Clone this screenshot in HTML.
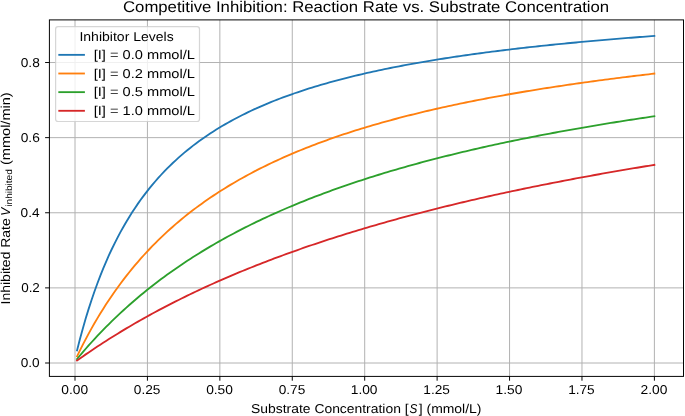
<!DOCTYPE html>
<html><head><meta charset="utf-8"><title>Competitive Inhibition: Reaction Rate vs. Substrate Concentration</title>
<style>html,body{margin:0;padding:0;background:#fff;overflow:hidden}svg{display:block;will-change:transform;text-rendering:geometricPrecision;font-kerning:none}</style></head>
<body><svg width="685" height="416" viewBox="0 0 685 416">
<rect width="685" height="416" fill="#fff"/>
<defs><clipPath id="c"><rect x="49.4" y="19.9" width="634.1" height="356.5"/></clipPath></defs>
<path d="M75 19.9V376.4M147.43 19.9V376.4M219.85 19.9V376.4M292.27 19.9V376.4M364.7 19.9V376.4M437.12 19.9V376.4M509.55 19.9V376.4M581.97 19.9V376.4M654.4 19.9V376.4M49.4 363H683.5M49.4 287.88H683.5M49.4 212.76H683.5M49.4 137.64H683.5M49.4 62.52H683.5" stroke="#b0b0b0" stroke-width="0.98" fill="none"/>
<g clip-path="url(#c)" fill="none" stroke-width="1.84" stroke-linecap="square" stroke-linejoin="round">
<path d="M77.05 350.43 79.95 339.07 82.85 328.40 85.75 318.36 88.66 308.89 91.56 299.95 94.46 291.49 97.36 283.48 100.26 275.87 103.16 268.65 106.06 261.78 108.96 255.24 111.86 249.00 114.76 243.04 117.67 237.35 120.57 231.91 123.47 226.69 126.37 221.70 129.27 216.91 132.17 212.31 135.07 207.89 137.97 203.64 140.87 199.55 143.77 195.62 146.68 191.82 149.58 188.16 152.48 184.63 155.38 181.23 158.28 177.93 161.18 174.75 164.08 171.67 166.98 168.69 169.88 165.81 172.78 163.01 175.69 160.30 178.59 157.68 181.49 155.13 184.39 152.66 187.29 150.25 190.19 147.92 193.09 145.65 195.99 143.45 198.89 141.31 201.79 139.22 204.70 137.19 207.60 135.21 210.50 133.29 213.40 131.41 216.30 129.58 219.20 127.80 222.10 126.06 225.00 124.36 227.90 122.71 230.80 121.09 233.71 119.51 236.61 117.97 239.51 116.47 242.41 115.00 245.31 113.56 248.21 112.15 251.11 110.77 254.01 109.43 256.91 108.11 259.81 106.82 262.72 105.56 265.62 104.32 268.52 103.11 271.42 101.93 274.32 100.77 277.22 99.63 280.12 98.51 283.02 97.42 285.92 96.35 288.82 95.30 291.73 94.26 294.63 93.25 297.53 92.26 300.43 91.28 303.33 90.33 306.23 89.39 309.13 88.46 312.03 87.56 314.93 86.67 317.83 85.79 320.74 84.93 323.64 84.09 326.54 83.26 329.44 82.44 332.34 81.64 335.24 80.85 338.14 80.07 341.04 79.31 343.94 78.56 346.84 77.82 349.75 77.09 352.65 76.38 355.55 75.67 358.45 74.98 361.35 74.30 364.25 73.63 367.15 72.97 370.05 72.31 372.95 71.67 375.85 71.04 378.75 70.42 381.66 69.80 384.56 69.20 387.46 68.60 390.36 68.01 393.26 67.44 396.16 66.86 399.06 66.30 401.96 65.75 404.86 65.20 407.77 64.66 410.67 64.13 413.57 63.60 416.47 63.09 419.37 62.57 422.27 62.07 425.17 61.57 428.07 61.08 430.97 60.60 433.87 60.12 436.77 59.65 439.68 59.18 442.58 58.72 445.48 58.27 448.38 57.82 451.28 57.37 454.18 56.94 457.08 56.51 459.98 56.08 462.88 55.66 465.79 55.24 468.69 54.83 471.59 54.42 474.49 54.02 477.39 53.62 480.29 53.23 483.19 52.84 486.09 52.46 488.99 52.08 491.89 51.71 494.80 51.34 497.70 50.97 500.60 50.61 503.50 50.25 506.40 49.90 509.30 49.55 512.20 49.20 515.10 48.86 518.00 48.52 520.90 48.19 523.81 47.86 526.71 47.53 529.61 47.21 532.51 46.89 535.41 46.57 538.31 46.26 541.21 45.94 544.11 45.64 547.01 45.33 549.91 45.03 552.82 44.73 555.72 44.44 558.62 44.15 561.52 43.86 564.42 43.57 567.32 43.29 570.22 43.01 573.12 42.73 576.02 42.46 578.92 42.19 581.83 41.92 584.73 41.65 587.63 41.38 590.53 41.12 593.43 40.86 596.33 40.61 599.23 40.35 602.13 40.10 605.03 39.85 607.93 39.60 610.84 39.36 613.74 39.12 616.64 38.88 619.54 38.64 622.44 38.40 625.34 38.17 628.24 37.94 631.14 37.71 634.04 37.48 636.94 37.25 639.85 37.03 642.75 36.81 645.65 36.59 648.55 36.37 651.45 36.16 654.35 35.94" stroke="#1f77b4"/>
<path d="M77.05 356.39 79.95 350.43 82.85 344.66 85.75 339.07 88.66 333.66 91.56 328.40 94.46 323.31 97.36 318.36 100.26 313.56 103.16 308.89 106.06 304.36 108.96 299.95 111.86 295.66 114.76 291.49 117.67 287.43 120.57 283.48 123.47 279.63 126.37 275.87 129.27 272.22 132.17 268.65 135.07 265.17 137.97 261.78 140.87 258.47 143.77 255.24 146.68 252.08 149.58 249.00 152.48 245.98 155.38 243.04 158.28 240.16 161.18 237.35 164.08 234.60 166.98 231.91 169.88 229.27 172.78 226.69 175.69 224.17 178.59 221.70 181.49 219.28 184.39 216.91 187.29 214.59 190.19 212.31 193.09 210.08 195.99 207.89 198.89 205.75 201.79 203.64 204.70 201.58 207.60 199.55 210.50 197.57 213.40 195.62 216.30 193.70 219.20 191.82 222.10 189.98 225.00 188.16 227.90 186.38 230.80 184.63 233.71 182.92 236.61 181.23 239.51 179.57 242.41 177.93 245.31 176.33 248.21 174.75 251.11 173.20 254.01 171.67 256.91 170.17 259.81 168.69 262.72 167.24 265.62 165.81 268.52 164.40 271.42 163.01 274.32 161.65 277.22 160.30 280.12 158.98 283.02 157.68 285.92 156.39 288.82 155.13 291.73 153.88 294.63 152.66 297.53 151.45 300.43 150.25 303.33 149.08 306.23 147.92 309.13 146.78 312.03 145.65 314.93 144.54 317.83 143.45 320.74 142.37 323.64 141.31 326.54 140.26 329.44 139.22 332.34 138.20 335.24 137.19 338.14 136.20 341.04 135.21 343.94 134.24 346.84 133.29 349.75 132.34 352.65 131.41 355.55 130.49 358.45 129.58 361.35 128.69 364.25 127.80 367.15 126.93 370.05 126.06 372.95 125.21 375.85 124.36 378.75 123.53 381.66 122.71 384.56 121.90 387.46 121.09 390.36 120.30 393.26 119.51 396.16 118.74 399.06 117.97 401.96 117.22 404.86 116.47 407.77 115.73 410.67 115.00 413.57 114.27 416.47 113.56 419.37 112.85 422.27 112.15 425.17 111.46 428.07 110.77 430.97 110.10 433.87 109.43 436.77 108.77 439.68 108.11 442.58 107.46 445.48 106.82 448.38 106.19 451.28 105.56 454.18 104.94 457.08 104.32 459.98 103.72 462.88 103.11 465.79 102.52 468.69 101.93 471.59 101.35 474.49 100.77 477.39 100.20 480.29 99.63 483.19 99.07 486.09 98.51 488.99 97.96 491.89 97.42 494.80 96.88 497.70 96.35 500.60 95.82 503.50 95.30 506.40 94.78 509.30 94.26 512.20 93.76 515.10 93.25 518.00 92.75 520.90 92.26 523.81 91.77 526.71 91.28 529.61 90.80 532.51 90.33 535.41 89.85 538.31 89.39 541.21 88.92 544.11 88.46 547.01 88.01 549.91 87.56 552.82 87.11 555.72 86.67 558.62 86.23 561.52 85.79 564.42 85.36 567.32 84.93 570.22 84.51 573.12 84.09 576.02 83.67 578.92 83.26 581.83 82.85 584.73 82.44 587.63 82.04 590.53 81.64 593.43 81.24 596.33 80.85 599.23 80.46 602.13 80.07 605.03 79.69 607.93 79.31 610.84 78.93 613.74 78.56 616.64 78.19 619.54 77.82 622.44 77.46 625.34 77.09 628.24 76.73 631.14 76.38 634.04 76.03 636.94 75.67 639.85 75.33 642.75 74.98 645.65 74.64 648.55 74.30 651.45 73.96 654.35 73.63" stroke="#ff7f0e"/>
<path d="M77.05 359.01 79.95 355.53 82.85 352.12 85.75 348.77 88.66 345.48 91.56 342.25 94.46 339.07 97.36 335.96 100.26 332.90 103.16 329.89 106.06 326.93 108.96 324.03 111.86 321.17 114.76 318.36 117.67 315.60 120.57 312.88 123.47 310.21 126.37 307.58 129.27 305.00 132.17 302.45 135.07 299.95 137.97 297.49 140.87 295.06 143.77 292.67 146.68 290.32 149.58 288.00 152.48 285.72 155.38 283.48 158.28 281.26 161.18 279.08 164.08 276.94 166.98 274.82 169.88 272.73 172.78 270.68 175.69 268.65 178.59 266.65 181.49 264.68 184.39 262.74 187.29 260.82 190.19 258.94 193.09 257.07 195.99 255.24 198.89 253.42 201.79 251.63 204.70 249.87 207.60 248.13 210.50 246.41 213.40 244.71 216.30 243.04 219.20 241.39 222.10 239.76 225.00 238.15 227.90 236.56 230.80 234.99 233.71 233.44 236.61 231.91 239.51 230.39 242.41 228.90 245.31 227.43 248.21 225.97 251.11 224.53 254.01 223.11 256.91 221.70 259.81 220.31 262.72 218.94 265.62 217.58 268.52 216.24 271.42 214.92 274.32 213.61 277.22 212.31 280.12 211.03 283.02 209.76 285.92 208.51 288.82 207.27 291.73 206.05 294.63 204.84 297.53 203.64 300.43 202.46 303.33 201.29 306.23 200.13 309.13 198.98 312.03 197.85 314.93 196.73 317.83 195.62 320.74 194.52 323.64 193.43 326.54 192.36 329.44 191.29 332.34 190.24 335.24 189.20 338.14 188.16 341.04 187.14 343.94 186.13 346.84 185.13 349.75 184.14 352.65 183.16 355.55 182.19 358.45 181.23 361.35 180.27 364.25 179.33 367.15 178.40 370.05 177.47 372.95 176.56 375.85 175.65 378.75 174.75 381.66 173.86 384.56 172.98 387.46 172.10 390.36 171.24 393.26 170.38 396.16 169.53 399.06 168.69 401.96 167.86 404.86 167.03 407.77 166.21 410.67 165.40 413.57 164.60 416.47 163.80 419.37 163.01 422.27 162.23 425.17 161.45 428.07 160.69 430.97 159.92 433.87 159.17 436.77 158.42 439.68 157.68 442.58 156.94 445.48 156.21 448.38 155.49 451.28 154.77 454.18 154.06 457.08 153.36 459.98 152.66 462.88 151.96 465.79 151.28 468.69 150.59 471.59 149.92 474.49 149.25 477.39 148.58 480.29 147.92 483.19 147.27 486.09 146.62 488.99 145.97 491.89 145.34 494.80 144.70 497.70 144.07 500.60 143.45 503.50 142.83 506.40 142.22 509.30 141.61 512.20 141.00 515.10 140.41 518.00 139.81 520.90 139.22 523.81 138.63 526.71 138.05 529.61 137.48 532.51 136.90 535.41 136.34 538.31 135.77 541.21 135.21 544.11 134.66 547.01 134.11 549.91 133.56 552.82 133.02 555.72 132.48 558.62 131.94 561.52 131.41 564.42 130.88 567.32 130.36 570.22 129.84 573.12 129.33 576.02 128.81 578.92 128.30 581.83 127.80 584.73 127.30 587.63 126.80 590.53 126.31 593.43 125.82 596.33 125.33 599.23 124.85 602.13 124.36 605.03 123.89 607.93 123.41 610.84 122.94 613.74 122.48 616.64 122.01 619.54 121.55 622.44 121.09 625.34 120.64 628.24 120.19 631.14 119.74 634.04 119.29 636.94 118.85 639.85 118.41 642.75 117.97 645.65 117.54 648.55 117.11 651.45 116.68 654.35 116.25" stroke="#2ca02c"/>
<path d="M77.05 360.47 79.95 358.42 82.85 356.39 85.75 354.38 88.66 352.40 91.56 350.43 94.46 348.49 97.36 346.57 100.26 344.66 103.16 342.78 106.06 340.92 108.96 339.07 111.86 337.25 114.76 335.44 117.67 333.66 120.57 331.89 123.47 330.14 126.37 328.40 129.27 326.69 132.17 324.99 135.07 323.31 137.97 321.64 140.87 319.99 143.77 318.36 146.68 316.75 149.58 315.14 152.48 313.56 155.38 311.99 158.28 310.43 161.18 308.89 164.08 307.37 166.98 305.86 169.88 304.36 172.78 302.88 175.69 301.41 178.59 299.95 181.49 298.51 184.39 297.08 187.29 295.66 190.19 294.26 193.09 292.87 195.99 291.49 198.89 290.12 201.79 288.77 204.70 287.43 207.60 286.10 210.50 284.78 213.40 283.48 216.30 282.18 219.20 280.90 222.10 279.63 225.00 278.36 227.90 277.11 230.80 275.87 233.71 274.64 236.61 273.42 239.51 272.22 242.41 271.02 245.31 269.83 248.21 268.65 251.11 267.48 254.01 266.32 256.91 265.17 259.81 264.03 262.72 262.90 265.62 261.78 268.52 260.67 271.42 259.56 274.32 258.47 277.22 257.38 280.12 256.30 283.02 255.24 285.92 254.18 288.82 253.12 291.73 252.08 294.63 251.04 297.53 250.02 300.43 249.00 303.33 247.98 306.23 246.98 309.13 245.98 312.03 245.00 314.93 244.01 317.83 243.04 320.74 242.07 323.64 241.12 326.54 240.16 329.44 239.22 332.34 238.28 335.24 237.35 338.14 236.43 341.04 235.51 343.94 234.60 346.84 233.69 349.75 232.80 352.65 231.91 355.55 231.02 358.45 230.14 361.35 229.27 364.25 228.41 367.15 227.55 370.05 226.69 372.95 225.85 375.85 225.01 378.75 224.17 381.66 223.34 384.56 222.52 387.46 221.70 390.36 220.89 393.26 220.08 396.16 219.28 399.06 218.48 401.96 217.69 404.86 216.91 407.77 216.13 410.67 215.36 413.57 214.59 416.47 213.82 419.37 213.06 422.27 212.31 425.17 211.56 428.07 210.82 430.97 210.08 433.87 209.34 436.77 208.62 439.68 207.89 442.58 207.17 445.48 206.46 448.38 205.75 451.28 205.04 454.18 204.34 457.08 203.64 459.98 202.95 462.88 202.26 465.79 201.58 468.69 200.90 471.59 200.22 474.49 199.55 477.39 198.89 480.29 198.22 483.19 197.57 486.09 196.91 488.99 196.26 491.89 195.62 494.80 194.97 497.70 194.34 500.60 193.70 503.50 193.07 506.40 192.45 509.30 191.82 512.20 191.20 515.10 190.59 518.00 189.98 520.90 189.37 523.81 188.76 526.71 188.16 529.61 187.57 532.51 186.97 535.41 186.38 538.31 185.80 541.21 185.21 544.11 184.63 547.01 184.06 549.91 183.48 552.82 182.92 555.72 182.35 558.62 181.79 561.52 181.23 564.42 180.67 567.32 180.12 570.22 179.57 573.12 179.02 576.02 178.47 578.92 177.93 581.83 177.40 584.73 176.86 587.63 176.33 590.53 175.80 593.43 175.27 596.33 174.75 599.23 174.23 602.13 173.71 605.03 173.20 607.93 172.69 610.84 172.18 613.74 171.67 616.64 171.17 619.54 170.67 622.44 170.17 625.34 169.67 628.24 169.18 631.14 168.69 634.04 168.20 636.94 167.72 639.85 167.24 642.75 166.76 645.65 166.28 648.55 165.81 651.45 165.34 654.35 164.87" stroke="#d62728"/>
</g>
<rect x="49.4" y="19.9" width="634.1" height="356.5" fill="none" stroke="#000" stroke-width="0.98"/>
<path d="M75 376.4v4.3M147.43 376.4v4.3M219.85 376.4v4.3M292.27 376.4v4.3M364.7 376.4v4.3M437.12 376.4v4.3M509.55 376.4v4.3M581.97 376.4v4.3M654.4 376.4v4.3M49.4 363h-4.3M49.4 287.88h-4.3M49.4 212.76h-4.3M49.4 137.64h-4.3M49.4 62.52h-4.3" stroke="#000" stroke-width="0.98" fill="none"/>
<rect x="55.6" y="26.7" width="143.9" height="94.8" rx="2.46" fill="#fff" fill-opacity="0.8" stroke="#ccc" stroke-opacity="0.8" stroke-width="1.23"/>
<path d="M59.25 54.85H83.98" stroke="#1f77b4" stroke-width="1.84" stroke-linecap="square"/>
<path d="M59.25 73.5H83.98" stroke="#ff7f0e" stroke-width="1.84" stroke-linecap="square"/>
<path d="M59.25 92.15H83.98" stroke="#2ca02c" stroke-width="1.84" stroke-linecap="square"/>
<path d="M59.25 110.8H83.98" stroke="#d62728" stroke-width="1.84" stroke-linecap="square"/>
<g font-family="'Liberation Sans', sans-serif" fill="#000">
<text transform="translate(123.00 12.10) scale(1.0789 1)" font-size="15.50">Competitive Inhibition: Reaction Rate vs. Substrate Concentration</text>
<text transform="translate(61.28 394.20) scale(1.0676 1)" font-size="12.92">0.00</text>
<text transform="translate(133.84 394.20) scale(1.0586 1)" font-size="12.92">0.25</text>
<text transform="translate(206.13 394.20) scale(1.0676 1)" font-size="12.92">0.50</text>
<text transform="translate(278.69 394.20) scale(1.0586 1)" font-size="12.92">0.75</text>
<text transform="translate(350.74 394.20) scale(1.0664 1)" font-size="12.92">1.00</text>
<text transform="translate(423.30 394.20) scale(1.0572 1)" font-size="12.92">1.25</text>
<text transform="translate(495.59 394.20) scale(1.0664 1)" font-size="12.92">1.50</text>
<text transform="translate(568.15 394.20) scale(1.0572 1)" font-size="12.92">1.75</text>
<text transform="translate(640.57 394.20) scale(1.0703 1)" font-size="12.92">2.00</text>
<text transform="translate(20.73 367.10) scale(1.0584 1)" font-size="12.92">0.0</text>
<text transform="translate(21.15 291.98) scale(1.0428 1)" font-size="12.92">0.2</text>
<text transform="translate(20.61 216.86) scale(1.0579 1)" font-size="12.92">0.4</text>
<text transform="translate(20.69 141.74) scale(1.0648 1)" font-size="12.92">0.6</text>
<text transform="translate(20.76 66.62) scale(1.0605 1)" font-size="12.92">0.8</text>
<text transform="translate(79.40 40.70) scale(1.0867 1)" font-size="12.92">Inhibitor Levels</text>
<text transform="translate(93.66 59.00) scale(1.1339 1)" font-size="12.92">[I] = 0.0 mmol/L</text>
<text transform="translate(93.66 77.65) scale(1.1339 1)" font-size="12.92">[I] = 0.2 mmol/L</text>
<text transform="translate(93.66 96.30) scale(1.1339 1)" font-size="12.92">[I] = 0.5 mmol/L</text>
<text transform="translate(93.66 114.95) scale(1.1339 1)" font-size="12.92">[I] = 1.0 mmol/L</text>
<g transform="translate(251.7 412.8)"><text transform="translate(-0.63 0.00) scale(1.0788 1)" font-size="12.89">Substrate Concentration [</text><text transform="translate(157.91 0.00) scale(0.9057 1)" font-size="12.89" font-style="italic">S</text><text transform="translate(167.04 0.00) scale(1.0829 1)" font-size="12.89">] (mmol/L)</text></g>
<g transform="translate(9.85 303.1) rotate(-90)"><text transform="translate(-1.29 0.00) scale(1.0817 1)" font-size="12.92">Inhibited Rate</text><text transform="translate(87.35 0.00) scale(0.9411 1)" font-size="12.92" font-style="italic">V</text><text transform="translate(96.43 2.02) scale(1.1142 1)" font-size="9.04">inhibited</text><text transform="translate(138.10 0.00) scale(1.1260 1)" font-size="12.92">(mmol/min)</text></g>
</g>
</svg></body></html>
